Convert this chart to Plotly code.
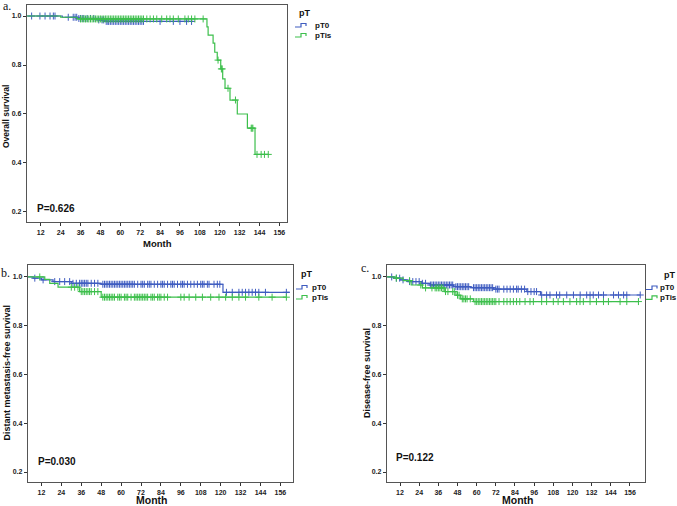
import bisect
import plotly.graph_objects as go

# ---------------- data ----------------
# Panel a: Overall survival
a_pT0_times = [0, 25, 34, 46, 51]
a_pT0_surv = [1.0, 0.995, 0.99, 0.984, 0.978]
a_pT0_end = 104
a_pT0_censor = [6.5, 11.5, 14.6, 17.6, 19.6, 20.6, 28.6, 31.6, 32.7, 33.7, 35, 36, 37, 38, 40, 42, 44, 47,
                49, 50, 51.5, 52.5, 53, 54, 55, 56, 57, 58, 59, 60, 61, 62, 63, 64, 65, 66, 67, 68, 69, 70,
                71, 72, 73, 74, 84, 92, 96, 100, 103]

a_pTis_times = [0, 24, 34, 112.3, 113, 116, 117, 118.5, 120.6, 121.8, 123.2, 126.2, 130.6, 136.7, 141.3]
a_pTis_surv = [1.0, 0.995, 0.988, 0.956, 0.922, 0.889, 0.852, 0.82, 0.784, 0.743, 0.705, 0.657, 0.6, 0.542, 0.435]
a_pTis_end = 149.3
a_pTis_censor = [36, 37, 38, 39, 40, 41, 42, 43, 44, 45, 46, 47, 48, 49, 50, 51, 52, 53, 54, 55, 56, 57, 58,
                 59, 60, 61, 62, 63, 64, 65, 66, 67, 68, 69, 70, 71, 72, 73, 74, 76, 78, 80, 82, 85, 88, 90,
                 92, 95, 99, 101, 103, 105, 110, 119, 121, 121.5, 125, 129.5, 139, 139.5, 140, 142.5, 145,
                 147, 149.3]

# Panel b: Distant metastasis-free survival
b_pT0_times = [0, 7, 12, 19, 30, 48, 121.4]
b_pT0_surv = [1.0, 0.995, 0.988, 0.981, 0.974, 0.97, 0.937]
b_pT0_end = 161.6
b_pT0_censor = [8, 13, 20, 23, 26, 29, 31, 33, 35, 36, 37, 38, 39, 40, 42, 44, 46, 49, 50, 51, 52, 53, 54,
                55, 56, 57, 58, 59, 60, 61, 62, 63, 64, 65, 66, 67, 68, 70, 72, 73, 74, 76, 77, 78, 80, 82,
                84, 85, 86, 88, 90, 91, 92, 94, 96, 97, 98, 100, 102, 104, 106, 108, 109, 110, 112, 113,
                116, 118, 119.5, 123.5, 127, 131, 133, 135, 137, 139, 141, 143, 147, 159.6]

b_pTis_times = [0, 14, 17, 22, 35, 48]
b_pTis_surv = [1.0, 0.99, 0.974, 0.958, 0.94, 0.917]
b_pTis_end = 159.6
b_pTis_censor = [11, 30, 32, 34, 36, 37, 38, 39, 40, 41, 42, 44, 46, 49, 50, 51, 52, 53, 54, 55, 56, 58,
                 59, 60, 62, 63, 64, 66, 68, 69, 70, 71, 72, 73, 74, 75, 76, 78, 79, 80, 82, 83, 84, 86,
                 88, 96, 98, 101, 105, 109, 114, 119, 123, 127, 131, 135, 143, 151, 159.6]

# Panel c: Disease-free survival
c_pT0_times = [0, 8, 12, 17, 25.6, 31, 45.5, 56, 70.5, 91.4, 100]
c_pT0_surv = [1.0, 0.995, 0.988, 0.981, 0.974, 0.967, 0.96, 0.956, 0.95, 0.94, 0.926]
c_pT0_end = 162.4
c_pT0_censor = [6.8, 9.7, 11.8, 13.9, 18, 20, 22, 24, 26, 28, 31, 32, 33, 34, 35, 36, 37, 38, 39, 40, 41,
                42, 43, 44, 45, 47, 48, 49, 50, 51, 52, 53, 54, 55, 58, 59, 60, 61, 62, 63, 64, 65, 66,
                67, 68, 69, 70, 72, 73, 74, 77, 79, 81, 83, 85, 86, 88, 90, 92, 94, 96, 97.5, 100.7,
                103.8, 105.9, 110, 112, 116.4, 120.6, 124.8, 128.9, 131, 133, 136.3, 139.4, 145.7,
                148.8, 152, 154, 162.4]

c_pTis_times = [0, 9, 14, 19, 26, 40, 47, 50, 58]
c_pTis_surv = [1.0, 0.995, 0.985, 0.967, 0.955, 0.94, 0.925, 0.91, 0.899]
c_pTis_end = 161.3
c_pTis_censor = [9.7, 18, 25, 28, 32, 34, 35, 36, 37, 38, 39, 40.5, 42, 45, 46, 48, 49, 51, 52, 53, 54,
                 56, 59, 60, 61, 62, 63, 64, 65, 66, 67, 68, 69, 70, 71, 72, 74, 77, 79, 81, 83, 85, 87,
                 90.3, 93.4, 95.5, 100.7, 103.8, 108, 111, 114.3, 118.4, 122.6, 124.7, 126.8, 131, 135,
                 139.4, 142.5, 149.8, 154, 161.3]

groups = ["pT0", "pTis"]
legend_title = "pT"
x_tick_values = [12, 24, 36, 48, 60, 72, 84, 96, 108, 120, 132, 144, 156]
y_tick_values = [0.2, 0.4, 0.6, 0.8, 1.0]
y_tick_labels = ["0.2", "0.4", "0.6", "0.8", "1.0"]
panel_letters = ["a.", "b.", "c."]
y_titles = ["Overall survival", "Distant metastasis-free survival", "Disease-free survival"]
p_values = ["P=0.626", "P=0.030", "P=0.122"]
x_title = "Month"

# ---------------- styling / layout ----------------
W, H = 677, 506
BLUE = "#3f5cc0"
GREEN = "#3dbf4c"
FRAME = "#555555"
SANS = "Liberation Sans, Arial, sans-serif"
NARROW = "Liberation Sans Narrow, Arial Narrow, Liberation Sans, Arial, sans-serif"
SERIF = "Liberation Serif, Times New Roman, serif"


def px(x, y):
    return x / W, 1 - y / H


def surv_at(times, surv, t):
    i = bisect.bisect_right(times, t) - 1
    return surv[max(i, 0)]


fig = go.Figure()

panels = [
    dict(data=[(a_pT0_times, a_pT0_surv, a_pT0_end, a_pT0_censor),
               (a_pTis_times, a_pTis_surv, a_pTis_end, a_pTis_censor)],
         box=(27, 5, 287, 222), xr=[3.7, 160.6], yr=[0.159, 1.045]),
    dict(data=[(b_pT0_times, b_pT0_surv, b_pT0_end, b_pT0_censor),
               (b_pTis_times, b_pTis_surv, b_pTis_end, b_pTis_censor)],
         box=(28, 265, 293, 482), xr=[3.9, 163.6], yr=[0.159, 1.049]),
    dict(data=[(c_pT0_times, c_pT0_surv, c_pT0_end, c_pT0_censor),
               (c_pTis_times, c_pTis_surv, c_pTis_end, c_pTis_censor)],
         box=(387, 265, 645, 482), xr=[3.86, 165.4], yr=[0.159, 1.049]),
]
colors = [BLUE, GREEN]

layout_axes = {}
for k, p in enumerate(panels):
    sfx = "" if k == 0 else str(k + 1)
    xa, ya = "x" + sfx, "y" + sfx
    for (times, surv, end, cens), col, name in zip(p["data"], colors, groups):
        fig.add_trace(go.Scatter(
            x=list(times) + [end], y=list(surv) + [surv[-1]],
            mode="lines", line=dict(color=col, width=1.2, shape="hv"),
            name=name, showlegend=False, xaxis=xa, yaxis=ya, hoverinfo="skip"))
        fig.add_trace(go.Scatter(
            x=cens, y=[surv_at(times, surv, t) for t in cens],
            mode="markers",
            marker=dict(symbol="cross-thin-open", size=5, color=col, line=dict(color=col, width=1)),
            name=name + " censored", showlegend=False, xaxis=xa, yaxis=ya, hoverinfo="skip"))
    x0, y0, x1, y1 = p["box"]
    common = dict(showline=True, mirror=True, linecolor=FRAME, linewidth=1.3, showgrid=False,
                  zeroline=False, ticks="outside", ticklen=3, tickcolor="#333333", tickwidth=1,
                  tickfont=dict(family=NARROW, size=7, color="#222222", weight="bold"))
    layout_axes["xaxis" + sfx] = dict(common, domain=[x0 / W, x1 / W], range=p["xr"],
                                      tickmode="array", tickvals=x_tick_values,
                                      ticktext=[str(v) for v in x_tick_values],
                                      anchor=ya, fixedrange=True)
    layout_axes["yaxis" + sfx] = dict(common, domain=[1 - y1 / H, 1 - y0 / H], range=p["yr"],
                                      tickmode="array", tickvals=y_tick_values, ticktext=y_tick_labels,
                                      anchor=xa, fixedrange=True)

fig.update_layout(width=W, height=H, margin=dict(l=0, r=0, t=0, b=0),
                  paper_bgcolor="white", plot_bgcolor="white", showlegend=False, **layout_axes)

annotations = []
shapes = []


def text(x, y, s, size, family=SANS, bold=True, xanchor="center", angle=0, color="#111111"):
    xx, yy = px(x, y)
    annotations.append(dict(x=xx, y=yy, xref="paper", yref="paper", text=s, showarrow=False,
                            xanchor=xanchor, yanchor="middle", textangle=angle,
                            font=dict(family=family, size=size, color=color,
                                      weight="bold" if bold else "normal")))


# panel letters
for (lx, ly), s in zip([(7, 6), (5, 273), (365, 268)], panel_letters):
    text(lx, ly, s, 12, family=SERIF, bold=False)

# axis titles
for (mx, my, msize), s in zip([(157, 243, 9.5), (152, 499.5, 10.5), (518, 499.5, 10.5)], [x_title] * 3):
    text(mx, my, s, msize)
for (tx, ty, tsize), s in zip([(6, 117, 8.5), (6.5, 373, 9), (367, 373, 9)], y_titles):
    text(tx, ty, s, tsize, angle=-90)

# p-values
for (vx, vy), s in zip([(35, 208), (36, 461), (394, 457)], p_values):
    text(vx, vy, s, 10, xanchor="left")

# legends: glyph x, title x, title y, item text x, item y's
legend_pos = [(295, 297, 13, 313, 25, 35),
              (296, 299, 274, 310, 287, 297),
              (646, 662, 275, 658, 287.5, 297.3)]
for gx, tx, ty, ix, y_a, y_b in legend_pos:
    text(tx, ty, legend_title, 9, xanchor="left")
    for yy, col, name in zip([y_a, y_b], colors, groups):
        pts = [(gx, yy + 2), (gx + 6, yy + 2), (gx + 6, yy - 1.5), (gx + 11, yy - 1.5), (gx + 11, yy + 1)]
        path = "M " + " L ".join("%.5f,%.5f" % px(a, b) for a, b in pts)
        shapes.append(dict(type="path", path=path, xref="paper", yref="paper",
                           line=dict(color=col, width=1.2)))
        text(ix, yy, name, 8, xanchor="left")

fig.update_layout(annotations=annotations, shapes=shapes)
fig.write_html("out.html")
